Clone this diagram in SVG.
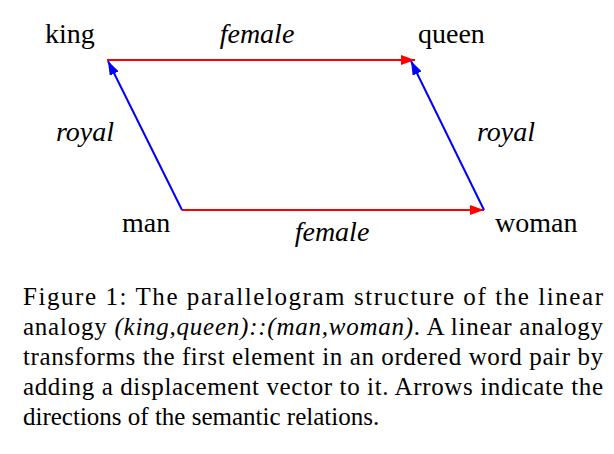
<svg xmlns="http://www.w3.org/2000/svg" width="614" height="454" viewBox="0 0 614 454">
<style>
text{font-family:"Liberation Serif","Times New Roman",serif;font-size:25px;fill:#000}
.l{font-size:28px}
.i{font-style:italic}
.r{stroke:#f00;stroke-width:2;fill:none}
.b{stroke:#00f;stroke-width:2;fill:none}
</style>
<defs>
<marker id="ar" markerWidth="14" markerHeight="10" refX="14" refY="5" orient="auto" markerUnits="userSpaceOnUse"><path d="M0,0L14,5L0,10z" fill="#f00"/></marker>
<marker id="ab" markerWidth="14" markerHeight="10" refX="14" refY="5" orient="auto" markerUnits="userSpaceOnUse"><path d="M0,0L14,5L0,10z" fill="#00f"/></marker>
</defs>
<rect width="614" height="454" fill="#fff"/>
<g id="connectors">
<line class="r" x1="107" y1="60" x2="415" y2="60" marker-end="url(#ar)"/>
<line class="r" x1="182" y1="210" x2="484" y2="210" marker-end="url(#ar)"/>
<line class="b" x1="182" y1="210" x2="108" y2="61" marker-end="url(#ab)"/>
<line class="b" x1="484" y1="210" x2="411" y2="61" marker-end="url(#ab)"/>
<text class="i l" x="257" y="43" text-anchor="middle">female</text>
<text class="i l" x="332" y="241" text-anchor="middle">female</text>
<text class="i l" x="85" y="141" text-anchor="middle">royal</text>
<text class="i l" x="506" y="141" text-anchor="middle">royal</text>
</g>
<g id="king"><text class="l" x="45" y="43">king</text></g>
<g id="queen"><text class="l" x="418" y="43">queen</text></g>
<g id="man"><text class="l" x="122" y="232">man</text></g>
<g id="woman"><text class="l" x="495" y="232">woman</text></g>
<g id="caption">
<text x="23" y="305" textLength="580" lengthAdjust="spacing">Figure 1:  The parallelogram structure of the linear</text>
<text x="23" y="335" textLength="580" lengthAdjust="spacing">analogy <tspan class="i">(king,queen)::(man,woman)</tspan>. A linear analogy</text>
<text x="23" y="365" textLength="580" lengthAdjust="spacing">transforms the first element in an ordered word pair by</text>
<text x="23" y="395" textLength="580" lengthAdjust="spacing">adding a displacement vector to it. Arrows indicate the</text>
<text x="23" y="425">directions of the semantic relations.</text>
</g>
</svg>
